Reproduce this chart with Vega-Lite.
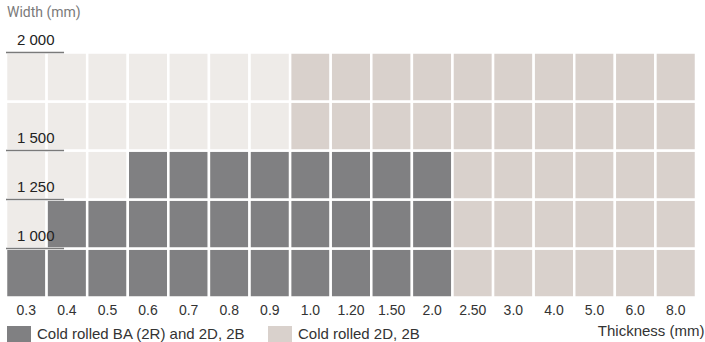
{
  "$schema": "https://vega.github.io/schema/vega-lite/v6.json",
  "width": 690,
  "height": 245,
  "autosize": "none",
  "padding": {"left": 6, "top": 52.5, "right": 9, "bottom": 44.5},
  "background": "white",
  "config": {"view": {"stroke": null}, "font": "Liberation Sans"},
  "datasets": {
    "cells": [
      {"t":"0.3","w":"<1000","c":"BA"},{"t":"0.4","w":"<1000","c":"BA"},{"t":"0.5","w":"<1000","c":"BA"},{"t":"0.6","w":"<1000","c":"BA"},{"t":"0.7","w":"<1000","c":"BA"},{"t":"0.8","w":"<1000","c":"BA"},{"t":"0.9","w":"<1000","c":"BA"},{"t":"1.0","w":"<1000","c":"BA"},{"t":"1.20","w":"<1000","c":"BA"},{"t":"1.50","w":"<1000","c":"BA"},{"t":"2.0","w":"<1000","c":"BA"},{"t":"2.50","w":"<1000","c":"2D"},{"t":"3.0","w":"<1000","c":"2D"},{"t":"4.0","w":"<1000","c":"2D"},{"t":"5.0","w":"<1000","c":"2D"},{"t":"6.0","w":"<1000","c":"2D"},{"t":"8.0","w":"<1000","c":"2D"},
      {"t":"0.3","w":"1000-1250","c":"NA"},{"t":"0.4","w":"1000-1250","c":"BA"},{"t":"0.5","w":"1000-1250","c":"BA"},{"t":"0.6","w":"1000-1250","c":"BA"},{"t":"0.7","w":"1000-1250","c":"BA"},{"t":"0.8","w":"1000-1250","c":"BA"},{"t":"0.9","w":"1000-1250","c":"BA"},{"t":"1.0","w":"1000-1250","c":"BA"},{"t":"1.20","w":"1000-1250","c":"BA"},{"t":"1.50","w":"1000-1250","c":"BA"},{"t":"2.0","w":"1000-1250","c":"BA"},{"t":"2.50","w":"1000-1250","c":"2D"},{"t":"3.0","w":"1000-1250","c":"2D"},{"t":"4.0","w":"1000-1250","c":"2D"},{"t":"5.0","w":"1000-1250","c":"2D"},{"t":"6.0","w":"1000-1250","c":"2D"},{"t":"8.0","w":"1000-1250","c":"2D"},
      {"t":"0.3","w":"1250-1500","c":"NA"},{"t":"0.4","w":"1250-1500","c":"NA"},{"t":"0.5","w":"1250-1500","c":"NA"},{"t":"0.6","w":"1250-1500","c":"BA"},{"t":"0.7","w":"1250-1500","c":"BA"},{"t":"0.8","w":"1250-1500","c":"BA"},{"t":"0.9","w":"1250-1500","c":"BA"},{"t":"1.0","w":"1250-1500","c":"BA"},{"t":"1.20","w":"1250-1500","c":"BA"},{"t":"1.50","w":"1250-1500","c":"BA"},{"t":"2.0","w":"1250-1500","c":"BA"},{"t":"2.50","w":"1250-1500","c":"2D"},{"t":"3.0","w":"1250-1500","c":"2D"},{"t":"4.0","w":"1250-1500","c":"2D"},{"t":"5.0","w":"1250-1500","c":"2D"},{"t":"6.0","w":"1250-1500","c":"2D"},{"t":"8.0","w":"1250-1500","c":"2D"},
      {"t":"0.3","w":"1500-1750","c":"NA"},{"t":"0.4","w":"1500-1750","c":"NA"},{"t":"0.5","w":"1500-1750","c":"NA"},{"t":"0.6","w":"1500-1750","c":"NA"},{"t":"0.7","w":"1500-1750","c":"NA"},{"t":"0.8","w":"1500-1750","c":"NA"},{"t":"0.9","w":"1500-1750","c":"NA"},{"t":"1.0","w":"1500-1750","c":"2D"},{"t":"1.20","w":"1500-1750","c":"2D"},{"t":"1.50","w":"1500-1750","c":"2D"},{"t":"2.0","w":"1500-1750","c":"2D"},{"t":"2.50","w":"1500-1750","c":"2D"},{"t":"3.0","w":"1500-1750","c":"2D"},{"t":"4.0","w":"1500-1750","c":"2D"},{"t":"5.0","w":"1500-1750","c":"2D"},{"t":"6.0","w":"1500-1750","c":"2D"},{"t":"8.0","w":"1500-1750","c":"2D"},
      {"t":"0.3","w":"1750-2000","c":"NA"},{"t":"0.4","w":"1750-2000","c":"NA"},{"t":"0.5","w":"1750-2000","c":"NA"},{"t":"0.6","w":"1750-2000","c":"NA"},{"t":"0.7","w":"1750-2000","c":"NA"},{"t":"0.8","w":"1750-2000","c":"NA"},{"t":"0.9","w":"1750-2000","c":"NA"},{"t":"1.0","w":"1750-2000","c":"2D"},{"t":"1.20","w":"1750-2000","c":"2D"},{"t":"1.50","w":"1750-2000","c":"2D"},{"t":"2.0","w":"1750-2000","c":"2D"},{"t":"2.50","w":"1750-2000","c":"2D"},{"t":"3.0","w":"1750-2000","c":"2D"},{"t":"4.0","w":"1750-2000","c":"2D"},{"t":"5.0","w":"1750-2000","c":"2D"},{"t":"6.0","w":"1750-2000","c":"2D"},{"t":"8.0","w":"1750-2000","c":"2D"}
    ],
    "marks": [
      {"w":"1750-2000","label":"2 000"},
      {"w":"1250-1500","label":"1 500"},
      {"w":"1000-1250","label":"1 250"},
      {"w":"<1000","label":"1 000"}
    ],
    "heading": [{"label":"Width (mm)","w":"1750-2000"}]
  },
  "layer": [
    {
      "data": {"name": "cells"},
      "mark": {"type": "rect", "stroke": "white", "strokeWidth": 2.5},
      "encoding": {
        "x": {
          "field": "t", "type": "ordinal",
          "scale": {"domain": ["0.3","0.4","0.5","0.6","0.7","0.8","0.9","1.0","1.20","1.50","2.0","2.50","3.0","4.0","5.0","6.0","8.0"], "paddingInner": 0, "paddingOuter": 0},
          "axis": {
            "title": "Thickness (mm)", "domain": false, "ticks": false, "tickSize": 0, "grid": false,
            "labelAngle": 0, "labelFontSize": 14, "labelColor": "#333333", "labelPadding": 17, "labelBaseline": "alphabetic",
            "titleFontSize": 15, "titleFontWeight": "normal", "titleColor": "#333333",
            "titleX": 698, "titleY": 37.5, "titleAlign": "right", "titleBaseline": "alphabetic", "titleAnchor": null
          }
        },
        "y": {
          "field": "w", "type": "ordinal",
          "scale": {"domain": ["1750-2000","1500-1750","1250-1500","1000-1250","<1000"], "paddingInner": 0, "paddingOuter": 0},
          "axis": null
        },
        "color": {
          "field": "c", "type": "nominal",
          "scale": {"domain": ["BA","2D","NA"], "range": ["#808082","#d9d1cc","#eeebe8"]},
          "legend": {
            "values": ["BA","2D"], "title": null, "orient": "none", "legendX": 1, "legendY": 269,
            "direction": "horizontal", "padding": 0,
            "symbolType": "M-1,-0.667H1V0.667H-1Z", "symbolSize": 576, "symbolStrokeWidth": 0, "symbolOpacity": 1,
            "labelFontSize": 15, "labelColor": "#333333", "labelOffset": 6, "columnPadding": 22, "labelLimit": 400,
            "labelExpr": "datum.value == 'BA' ? 'Cold rolled BA (2R) and 2D, 2B' : 'Cold rolled 2D, 2B'"
          }
        }
      }
    },
    {
      "data": {"name": "marks"},
      "mark": {"type": "rule", "color": "#7a7a7a", "strokeWidth": 1.5},
      "encoding": {
        "x": {"datum": 0, "type": "quantitative", "scale": {"domain": [0, 17]}, "axis": null},
        "x2": {"datum": 1.43},
        "y": {"field": "w", "type": "ordinal", "bandPosition": 0, "scale": {"domain": ["1750-2000","1500-1750","1250-1500","1000-1250","<1000"]}, "axis": null}
      }
    },
    {
      "data": {"name": "marks"},
      "mark": {"type": "text", "align": "left", "baseline": "alphabetic", "dy": -8, "fontSize": 15, "color": "#222222"},
      "encoding": {
        "x": {"datum": 0.27, "type": "quantitative", "scale": {"domain": [0, 17]}, "axis": null},
        "y": {"field": "w", "type": "ordinal", "bandPosition": 0, "scale": {"domain": ["1750-2000","1500-1750","1250-1500","1000-1250","<1000"]}, "axis": null},
        "text": {"field": "label"}
      }
    },
    {
      "data": {"name": "heading"},
      "mark": {"type": "text", "align": "left", "baseline": "alphabetic", "dy": -35.5, "fontSize": 14, "font": "Roboto", "color": "#7a7a7a"},
      "encoding": {
        "x": {"datum": 0.025, "type": "quantitative", "scale": {"domain": [0, 17]}, "axis": null},
        "y": {"field": "w", "type": "ordinal", "bandPosition": 0, "scale": {"domain": ["1750-2000","1500-1750","1250-1500","1000-1250","<1000"]}, "axis": null},
        "text": {"field": "label"}
      }
    }
  ],
  "resolve": {"scale": {"x": "independent"}, "axis": {"x": "independent"}}
}
